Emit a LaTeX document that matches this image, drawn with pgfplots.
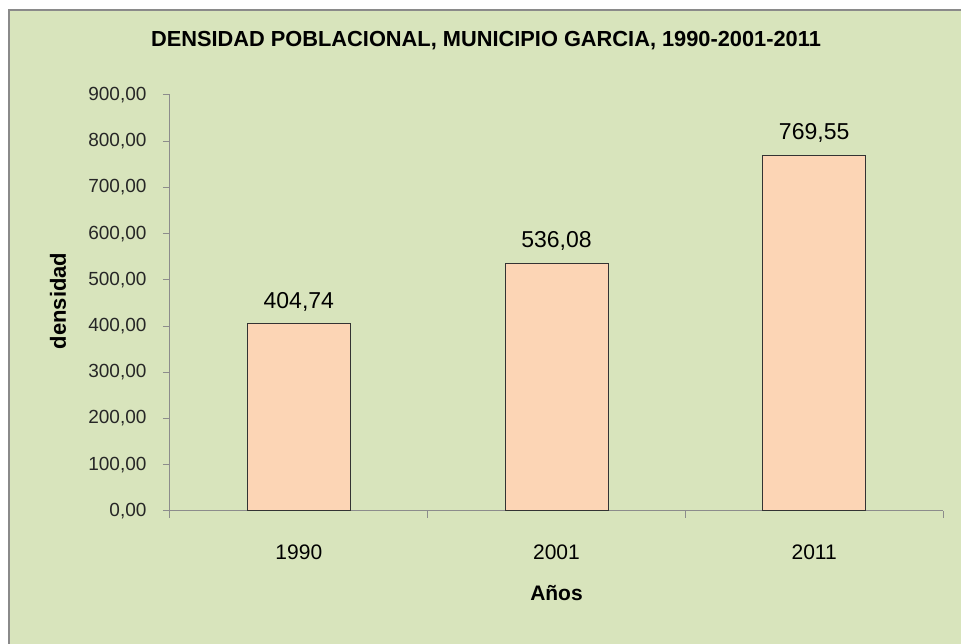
\documentclass[border=0pt]{standalone}
\usepackage{pgfplots}
\pgfplotsset{compat=1.18}
\usepackage{fontspec}
\setmainfont{Liberation Sans}
\definecolor{bgc}{HTML}{D8E4BC}
\definecolor{barc}{HTML}{FCD5B5}
\definecolor{axc}{HTML}{8C8C8C}
\definecolor{framec}{HTML}{8A8A8A}
\pgfplotstableread{
x y
0 404.74
1 536.08
2 769.55
}\datatable
\begin{document}
\begin{tikzpicture}[x=1pt,y=1pt]
\begin{scope}[shift={(-170pt,-133pt)}]
\path[use as bounding box] (0,0) rectangle (961,644);
\fill[bgc] (9,0) rectangle (961,634);
\draw[framec, line width=2pt] (9,-2) -- (9,634) -- (963,634);
\node[font=\bfseries\fontsize{21.8}{26}\selectfont] at (486,603) {DENSIDAD POBLACIONAL, MUNICIPIO GARCIA, 1990-2001-2011};
\end{scope}
\begin{axis}[
  scale only axis, width=773pt, height=416pt,
  xmin=-0.5, xmax=2.5, ymin=0, ymax=900,
  axis lines*=left,
  axis line style={axc, line width=1pt},
  tick align=outside,
  major tick length=7pt,
  tick style={axc, line width=1pt},
  xtick={-0.5,0.5,1.5,2.5}, xticklabels={},
  extra x ticks={0,1,2},
  extra x tick labels={1990,2001,2011},
  extra x tick style={tick style={draw=none},
    xticklabel style={anchor=center, yshift=-34pt, font=\fontsize{21}{25}\selectfont}},
  ytick distance=100,
  yticklabel style={anchor=east, xshift=-13pt, font=\fontsize{19}{22}\selectfont, text=black!85},
  /pgf/number format/.cd, fixed, fixed zerofill, precision=2, use comma, 1000 sep={}, assume math mode=true,
  /pgfplots/.cd,
  ylabel={densidad},
  ylabel style={at={(axis description cs:-0.145,0.505)}, anchor=center, font=\bfseries\fontsize{22}{26}\selectfont},
  xlabel={Años},
  xlabel style={at={(axis description cs:0.5,-0.197)}, anchor=center, font=\bfseries\fontsize{21}{25}\selectfont},
  nodes near coords,
  nodes near coords style={font=\fontsize{23}{27}\selectfont, yshift=9pt},
  clip=false,
]
\addplot[ybar, bar width=103pt, fill=barc, draw=black!80, line width=1pt] table[x=x,y=y]{\datatable};
\end{axis}
\end{tikzpicture}
\end{document}
